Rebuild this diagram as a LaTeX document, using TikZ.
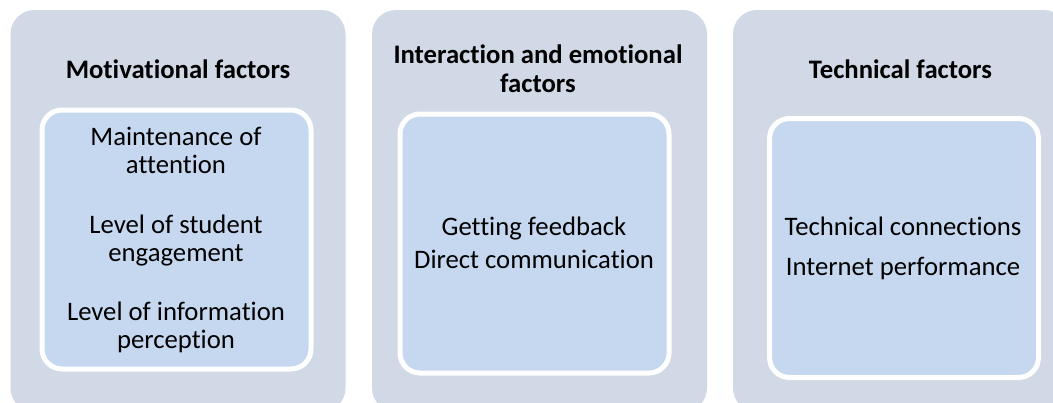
\documentclass[tikz,border=0pt]{standalone}
\usepackage{fontspec}
\setmainfont{Carlito}[Ligatures={NoCommon}]
\definecolor{panelfill}{RGB}{209,216,230}
\definecolor{itemfill}{RGB}{198,216,240}
\begin{document}
\begin{tikzpicture}[x=1pt,y=-1pt,
  panel/.style={shape=rectangle, fill=panelfill, rounded corners=24pt,
    inner sep=0pt, outer sep=0pt, minimum width=335pt, minimum height=402pt},
  itembox/.style={shape=rectangle, fill=itemfill, draw=white, line width=5pt,
    rounded corners=20pt, inner sep=0pt, outer sep=0pt,
    minimum width=269pt, minimum height=259pt},
  head/.style={anchor=base, inner sep=0pt, font=\fontsize{26.7}{28}\selectfont\bfseries},
  item/.style={anchor=base, inner sep=0pt, font=\fontsize{26.7}{28}\selectfont}]
\useasboundingbox (0,0) rectangle (1053,402);
\clip (0,0) rectangle (1053,402);

% three category panels (their lower edges run past the frame)
\node[panel] (p1) at (178,211) {};
\node[panel] (p2) at (539.5,211) {};
\node[panel] (p3) at (900.5,211) {};

% inner boxes holding the factors
\node[itembox] (b1) at (176.5,239.5) {};
\node[itembox] (b2) at (534.5,243.5) {};
\node[itembox] (b3) at (904,248) {};

% headings
\node[head] (h1) at (178,78) {Motivational factors};
\node[head] (h2a) at (538,63) {Interaction and emotional};
\node[head] (h2b) at (538,92) {factors};
\node[head] (h3) at (900.5,78) {Technical factors};

% motivational factors
\node[item] (m1a) at (176,145) {Maintenance of};
\node[item] (m1b) at (176,173) {attention};
\node[item] (m2a) at (176,233) {Level of student};
\node[item] (m2b) at (176,261) {engagement};
\node[item] (m3a) at (176,320) {Level of information};
\node[item] (m3b) at (176,348) {perception};

% interaction and emotional factors
\node[item] (i1) at (534,235) {Getting feedback};
\node[item] (i2) at (534,268) {Direct communication};

% technical factors
\node[item] (t1) at (903,235) {Technical connections};
\node[item] (t2) at (903,275) {Internet performance};
\end{tikzpicture}
\end{document}
